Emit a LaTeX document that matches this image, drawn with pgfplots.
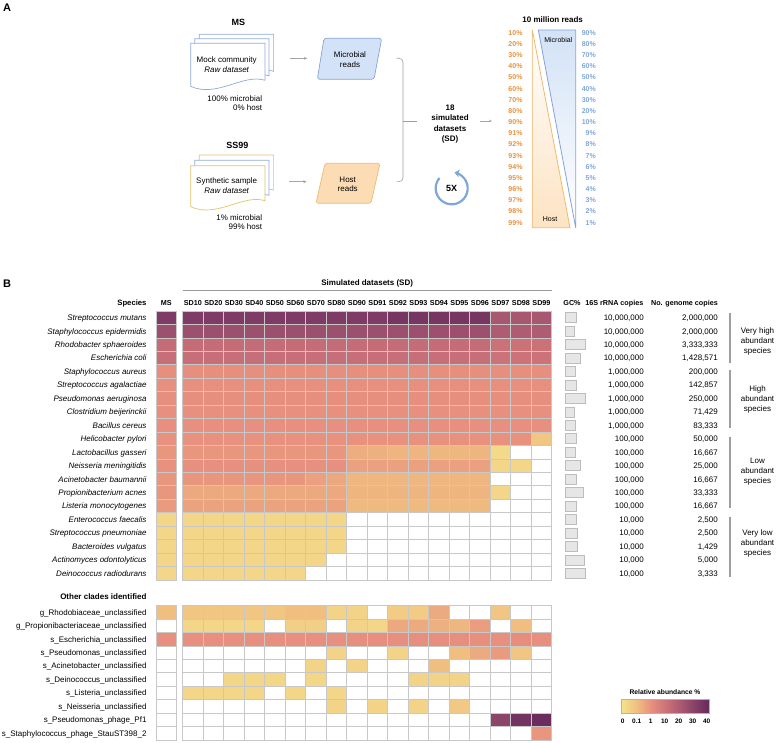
\documentclass[border=0pt]{standalone}
\usepackage{pgfplots}
\pgfplotsset{compat=1.18}
\usepackage{pgfplotstable}
\usepackage{fontspec}
\setmainfont{Liberation Sans}
\usetikzlibrary{arrows.meta}
\definecolor{c0}{HTML}{F4E08C}
\definecolor{c1}{HTML}{F0BF80}
\definecolor{c2}{HTML}{E8917F}
\definecolor{c3}{HTML}{CD7479}
\definecolor{c4}{HTML}{AE5C72}
\definecolor{c5}{HTML}{8C4469}
\definecolor{c6}{HTML}{6A2D5E}
\definecolor{gridgray}{HTML}{C8C8C8}
\definecolor{gcfill}{HTML}{E6E6E6}
\definecolor{gcdraw}{HTML}{BDBDBD}
\definecolor{docblue}{HTML}{8FAADC}
\definecolor{docyel}{HTML}{E5C26C}
\definecolor{mfill}{HTML}{D3E2F6}
\definecolor{mdraw}{HTML}{84A3D6}
\definecolor{hfill}{HTML}{FCDCB4}
\definecolor{hdraw}{HTML}{EDBA6E}
\definecolor{pctor}{HTML}{E8903A}
\definecolor{pctbl}{HTML}{7EA6DC}
\definecolor{arcbl}{HTML}{7FA6DA}
\newcommand{\fs}[1]{\fontsize{#1}{#1}\selectfont}
\newcommand{\docshape}[5]{%
 \filldraw[draw=#5, fill=white, line width=0.7pt] (#1,#2) -- ({#1+#3},#2) -- ({#1+#3},{#2+#4-9}) .. controls ({#1+0.7*#3},{#2+#4-16}) and ({#1+0.35*#3},{#2+#4+9}) .. (#1,{#2+#4-3}) -- cycle;}
\newcommand{\numrow}[3]{%
 \node[anchor=base east, inner sep=0, font=\fs{8}] at (644,{311+13.45*(#1+0.5)+2.9}) {#2};
 \node[anchor=base east, inner sep=0, font=\fs{8}] at (718,{311+13.45*(#1+0.5)+2.9}) {#3};}
\newcommand{\hmcol}[2]{%
 \addplot[cell, point meta={abpos(\thisrow{#1})}] table[x expr=#2, y expr=\coordindex] {\species};
 \addplot[cell, point meta={abpos(\thisrow{#1})}] table[x expr=#2, y expr={\coordindex+21.9}] {\clades};}

\pgfplotstableread{
MS SD10 SD20 SD30 SD40 SD50 SD60 SD70 SD80 SD90 SD91 SD92 SD93 SD94 SD95 SD96 SD97 SD98 SD99
34 34 34 34 34 34 34 34 34 34 34 36 36 36 36 36 22 22 22
25 25 25 25 25 25 25 25 25 25 25 25 25 25 25 25 20 20 20
13 13 13 13 13 13 13 13 13 13 13 13 13 13 13 13 11 11 11
12 12 12 12 12 12 12 12 12 12 12 12 12 12 12 12 10.5 10.5 10.5
1.6 1.6 1.6 1.6 1.6 1.6 1.6 1.6 1.6 1.6 1.6 1.6 1.6 1.6 1.6 1.6 1.6 1.6 1.6
1.4 1.4 1.4 1.4 1.4 1.4 1.4 1.4 1.4 1.4 1.4 1.4 1.4 1.4 1.4 1.4 1.4 1.4 1.4
1.7 1.7 1.7 1.7 1.7 1.7 1.7 1.7 1.7 1.7 1.7 1.7 1.7 1.7 1.7 1.7 1.7 1.7 1.7
1.3 1.3 1.3 1.3 1.3 1.3 1.3 1.3 1.3 1.3 1.3 1.3 1.3 1.3 1.3 1.3 1.3 1.3 1.3
1.3 1.3 1.3 1.3 1.3 1.3 1.3 1.3 1.3 1.3 1.3 1.3 1.3 1.3 1.3 1.3 1.3 1.3 1.3
1.1 1.1 1.1 1.1 1.1 1.1 1.1 1.1 1.1 1.1 1.1 1.1 1.1 1.1 1.1 1.1 1.1 1.1 0.08
0.9 0.9 0.9 0.9 0.9 0.9 0.9 0.9 0.9 0.45 0.4 0.3 0.3 0.25 0.25 0.3 0.02 0 0
1.0 1.2 1.2 1.2 1.2 1.2 1.2 1.2 1.2 0.7 0.7 0.7 0.7 0.7 0.7 0.7 0.03 0.03 0
0.9 0.9 0.9 0.9 0.9 0.9 0.9 0.7 0.55 0.25 0.25 0.25 0.25 0.25 0.25 0.25 0 0 0
0.9 0.55 0.55 0.55 0.55 0.55 0.55 0.55 0.55 0.3 0.3 0.3 0.3 0.3 0.3 0.3 0.03 0 0
0.8 0.65 0.65 0.65 0.65 0.65 0.65 0.65 0.65 0.2 0.2 0.2 0.2 0.2 0.2 0.2 0 0 0
0.03 0.03 0.03 0.03 0.03 0.03 0.03 0.03 0.03 0 0 0 0 0 0 0 0 0 0
0.03 0.03 0.03 0.03 0.03 0.03 0.03 0.03 0.03 0 0 0 0 0 0 0 0 0 0
0.03 0.03 0.03 0.03 0.03 0.03 0.03 0.03 0.03 0 0 0 0 0 0 0 0 0 0
0.03 0.03 0.03 0.03 0.03 0.03 0.03 0.03 0 0 0 0 0 0 0 0 0 0 0
0.03 0.03 0.03 0.03 0.03 0.03 0.03 0 0 0 0 0 0 0 0 0 0 0 0
}\species

\pgfplotstableread{
MS SD10 SD20 SD30 SD40 SD50 SD60 SD70 SD80 SD90 SD91 SD92 SD93 SD94 SD95 SD96 SD97 SD98 SD99
0.1 0.08 0.08 0.08 0.08 0.08 0.1 0.1 0.04 0.04 0 0.06 0.06 0.5 0 0 0.08 0 0
0 0.03 0.03 0.03 0.03 0 0.05 0.05 0 0.04 0.03 0.55 0.5 0.4 0.25 0.75 0 0.12 0
1.2 1.2 1.2 1.2 1.2 1.2 1.2 1.2 1.3 1.5 1.5 1.7 1.7 1.6 1.7 1.5 1.4 2.0 1.4
0 0 0 0 0 0 0 0 0.04 0 0 0.04 0 0 0.1 0.5 0.8 0.08 0
0 0 0 0 0 0 0 0.04 0 0.04 0 0 0 0.1 0 0 0 0 0
0 0 0 0.03 0.03 0.03 0 0.03 0 0 0 0 0.04 0.04 0.04 0 0 0 0
0 0.03 0.03 0.03 0.03 0 0.03 0 0.03 0 0 0 0 0 0 0 0 0 0
0 0 0 0 0 0 0 0 0.04 0 0.04 0 0.04 0 0.07 0 0 0 0
0 0 0 0 0 0 0 0 0 0 0 0 0 0 0 0 30 37 40
0 0 0 0 0 0 0 0 0 0 0 0 0 0 0 0 0 0 0.9
}\clades

\pgfplotstableread{
row gc
0 37
1 32
2 69
3 51
4 33
5 36
6 66
7 30
8 35
9 39
10 35
11 52
12 39
13 60
14 38
15 37
16 40
17 42
18 65
19 67
}\gctab

\pgfplotsset{cell/.style={scatter, only marks, mark=square*, mark size=0.5pt,
  scatter/use mapped color={draw=gridgray, fill=mapped color},
  mark options={xscale=20.5, yscale=13.45, line width=0.8pt}}}

\begin{document}
\begin{tikzpicture}[
  declare function={abpos(\v)=(\v>0)*(1+min(\v/0.1,1)+max(min((\v-0.1)/0.9,1),0)+max(min((\v-1)/9,1),0)+max(min((\v-10)/10,3),0));}]
\path[use as bounding box] (0pt,0pt) rectangle (777pt,-743pt);

% heatmap
\begin{axis}[at={(156.05pt,-311pt)}, anchor=north west, scale only axis,
  width=395.65pt, height=429.06pt, xmin=-1.8, xmax=17.5, ymin=-0.5, ymax=31.4,
  y dir=reverse, hide axis, clip=false, point meta min=0, point meta max=7,
  colormap={hm}{color(0cm)=(white) color(1cm)=(c0) color(2cm)=(c1) color(3cm)=(c2) color(4cm)=(c3) color(5cm)=(c4) color(6cm)=(c5) color(7cm)=(c6)}]
\hmcol{MS}{-1.3}
\hmcol{SD10}{0}
\hmcol{SD20}{1}
\hmcol{SD30}{2}
\hmcol{SD40}{3}
\hmcol{SD50}{4}
\hmcol{SD60}{5}
\hmcol{SD70}{6}
\hmcol{SD80}{7}
\hmcol{SD90}{8}
\hmcol{SD91}{9}
\hmcol{SD92}{10}
\hmcol{SD93}{11}
\hmcol{SD94}{12}
\hmcol{SD95}{13}
\hmcol{SD96}{14}
\hmcol{SD97}{15}
\hmcol{SD98}{16}
\hmcol{SD99}{17}
\end{axis}

% GC bars
\begin{axis}[at={(565pt,-311pt)}, anchor=north west, scale only axis, width=30pt, height=269pt,
  xmin=0, xmax=100, ymin=-0.5, ymax=19.5, y dir=reverse, hide axis, clip=false,
  xbar, bar width=10pt]
\addplot[xbar, fill=gcfill, draw=gcdraw, line width=0.6pt] table[x=gc, y=row] {\gctab};
\end{axis}

\begin{scope}[x=1pt,y=-1pt]
% ---------------- Panel A ----------------
\node[anchor=base west, inner sep=0, font=\fs{11}\bfseries] at (3,12) {A};
\node[anchor=base, inner sep=0, font=\fs{9}\bfseries] at (238.3,25.9) {MS};
\docshape{199.3}{34.3}{74.3}{46}{docblue}
\docshape{194.7}{38.8}{74.3}{46}{docblue}
\docshape{190.7}{43.3}{74.3}{46}{docblue}
\node[anchor=base, inner sep=0, font=\fs{8}] at (226.7,62.9) {Mock community};
\node[anchor=base, inner sep=0, font=\fs{8}\itshape] at (226.7,72.2) {Raw dataset};
\node[anchor=base east, inner sep=0, font=\fs{8}] at (262.3,101.2) {100\% microbial};
\node[anchor=base east, inner sep=0, font=\fs{8}] at (262.3,110.6) {0\% host};
\draw[gray!70, line width=0.5pt, -{Stealth[length=3.5pt,width=3pt]}] (290,58.3) -- (307.3,58.3);
\filldraw[fill=mfill, draw=mdraw, rounded corners=2.5pt, line width=0.7pt] (324,38.3) -- (381.7,38.3) -- (374,79.3) -- (317.3,79.3) -- cycle;
\node[anchor=base, inner sep=0, font=\fs{8}] at (350,57.9) {Microbial};
\node[anchor=base, inner sep=0, font=\fs{8}] at (350,67.9) {reads};

\node[anchor=base, inner sep=0, font=\fs{9}\bfseries] at (237.3,148.9) {SS99};
\docshape{199.3}{155}{74.3}{44}{docyel}
\docshape{194.7}{160.3}{74.3}{44}{docblue}
\docshape{190.7}{165.7}{74.3}{44}{docyel}
\node[anchor=base, inner sep=0, font=\fs{8}] at (226.7,183.9) {Synthetic sample};
\node[anchor=base, inner sep=0, font=\fs{8}\itshape] at (226.7,193.6) {Raw dataset};
\node[anchor=base east, inner sep=0, font=\fs{8}] at (262.3,220.2) {1\% microbial};
\node[anchor=base east, inner sep=0, font=\fs{8}] at (262.3,229.9) {99\% host};
\draw[gray!70, line width=0.5pt, -{Stealth[length=3.5pt,width=3pt]}] (289.3,181.7) -- (306.7,181.7);
\filldraw[fill=hfill, draw=hdraw, rounded corners=2.5pt, line width=0.7pt] (325,163.3) -- (380,163.3) -- (371,203.3) -- (316,203.3) -- cycle;
\node[anchor=base, inner sep=0, font=\fs{8}] at (347.7,182.2) {Host};
\node[anchor=base, inner sep=0, font=\fs{8}] at (347.7,191.9) {reads};

% brace
\draw[gray!75, line width=0.6pt, rounded corners=4pt] (396.5,58.3) -- (403,58.3) -- (403,121);
\draw[gray!75, line width=0.6pt, rounded corners=4pt] (396.5,181.7) -- (403,181.7) -- (403,121);
\draw[gray!75, line width=0.6pt] (403,121) -- (416.7,121);
\node[align=center, inner sep=0, font=\fontsize{8}{10.3}\selectfont\bfseries] at (450,124) {18\\simulated\\datasets\\(SD)};
\draw[gray!70, line width=0.5pt, -{Stealth[length=3pt,width=2.5pt]}] (480,121) -- (492,121);
\draw[arcbl, line width=2.2pt, -{Stealth[length=5pt,width=8pt]}] (439.44,178.02) arc[start angle=-140, end angle=-440, radius=16];
\node[anchor=base, inner sep=0, font=\fs{9}\bfseries] at (451.7,191.5) {5X};

% reads triangles
\node[anchor=base, inner sep=0, font=\fs{8}\bfseries] at (552.7,22.2) {10 million reads};
\shade[top color=white, bottom color=hfill!80] (532.3,30) -- (532.3,227.7) -- (570,227.7) -- cycle;
\draw[hdraw, line width=0.8pt, line join=round] (532.3,30) -- (532.3,227.7) -- (570,227.7) -- cycle;
\shade[top color=mfill, bottom color=white] (538.3,30) -- (575.7,30) -- (575.7,227.7) -- cycle;
\draw[mdraw, line width=0.8pt, line join=round] (538.3,30) -- (575.7,30) -- (575.7,227.7) -- cycle;
\node[anchor=base, inner sep=0, font=\fs{7}] at (558.3,42.5) {Microbial};
\node[anchor=base, inner sep=0, font=\fs{7}] at (550,221.5) {Host};
\foreach \p [count=\k from 0] in {10,20,30,40,50,60,70,80,90,91,92,93,94,95,96,97,98,99}
  \node[anchor=base east, inner sep=0, text=pctor, font=\fs{7}\bfseries] at (522.7,{32.7+11.17*\k+2.5}) {\p\%};
\foreach \p [count=\k from 0] in {90,80,70,60,50,40,30,20,10,9,8,7,6,5,4,3,2,1}
  \node[anchor=base east, inner sep=0, text=pctbl, font=\fs{7}\bfseries] at (596,{32.7+11.17*\k+2.5}) {\p\%};

% ---------------- Panel B ----------------
\node[anchor=base west, inner sep=0, font=\fs{11}\bfseries] at (3,288) {B};
\node[anchor=base, inner sep=0, font=\fs{8}\bfseries] at (367.2,285.8) {Simulated datasets (SD)};
\draw[gray!80, line width=1.8pt] (183,290.5) -- (552,290.5);
\node[anchor=base east, inner sep=0, font=\fs{7.7}\bfseries] at (146.7,305.8) {Species};
\node[anchor=base, inner sep=0, font=\fs{7.2}\bfseries] at (166.3,305.6) {MS};
\foreach \s [count=\j from 0] in {SD10,SD20,SD30,SD40,SD50,SD60,SD70,SD80,SD90,SD91,SD92,SD93,SD94,SD95,SD96,SD97,SD98,SD99}
  \node[anchor=base, inner sep=0, font=\fs{7.2}\bfseries] at ({182.7+20.5*(\j+0.5)},305.6) {\s};
\node[anchor=base, inner sep=0, font=\fs{7.2}\bfseries] at (572,305.6) {GC\%};
\node[anchor=base east, inner sep=0, font=\fs{7.2}\bfseries] at (643.5,305.6) {16S rRNA copies};
\node[anchor=base east, inner sep=0, font=\fs{7.2}\bfseries] at (718,305.6) {No. genome copies};

\foreach \n [count=\i from 0] in {Streptococcus mutans,Staphylococcus epidermidis,Rhodobacter sphaeroides,Escherichia coli,Staphylococcus aureus,Streptococcus agalactiae,Pseudomonas aeruginosa,Clostridium beijerinckii,Bacillus cereus,Helicobacter pylori,Lactobacillus gasseri,Neisseria meningitidis,Acinetobacter baumannii,Propionibacterium acnes,Listeria monocytogenes,Enterococcus faecalis,Streptococcus pneumoniae,Bacteroides vulgatus,Actinomyces odontolyticus,Deinococcus radiodurans}
  \node[anchor=base east, inner sep=0, font=\fs{8}\itshape] at (146.7,{311+13.45*(\i+0.5)+2.9}) {\n};

\node[anchor=base east, inner sep=0, font=\fs{8}\bfseries] at (146.7,599.6) {Other clades identified};
\foreach \n [count=\i from 0] in {g\_Rhodobiaceae\_unclassified,g\_Propionibacteriaceae\_unclassified,s\_Escherichia\_unclassified,s\_Pseudomonas\_unclassified,s\_Acinetobacter\_unclassified,s\_Deinococcus\_unclassified,s\_Listeria\_unclassified,s\_Neisseria\_unclassified,s\_Pseudomonas\_phage\_Pf1,s\_Staphylococcus\_phage\_StauST398\_2}
  \node[anchor=base east, inner sep=0, font=\fs{8}] at (146.7,{311+13.45*(\i+22.4)+2.9}) {\n};

\numrow{0}{10,000,000}{2,000,000}
\numrow{1}{10,000,000}{2,000,000}
\numrow{2}{10,000,000}{3,333,333}
\numrow{3}{10,000,000}{1,428,571}
\numrow{4}{1,000,000}{200,000}
\numrow{5}{1,000,000}{142,857}
\numrow{6}{1,000,000}{250,000}
\numrow{7}{1,000,000}{71,429}
\numrow{8}{1,000,000}{83,333}
\numrow{9}{100,000}{50,000}
\numrow{10}{100,000}{16,667}
\numrow{11}{100,000}{25,000}
\numrow{12}{100,000}{16,667}
\numrow{13}{100,000}{33,333}
\numrow{14}{100,000}{16,667}
\numrow{15}{10,000}{2,500}
\numrow{16}{10,000}{2,500}
\numrow{17}{10,000}{1,429}
\numrow{18}{10,000}{5,000}
\numrow{19}{10,000}{3,333}

\draw[gray!75, line width=1.3pt] (730,313) -- (730,363);
\draw[gray!75, line width=1.3pt] (730,370.5) -- (730,428.5);
\draw[gray!75, line width=1.3pt] (730,436.5) -- (730,508);
\draw[gray!75, line width=1.3pt] (730,516.5) -- (730,577);
\node[align=center, inner sep=0, font=\fontsize{8}{10}\selectfont] at (757.5,341) {Very high\\abundant\\species};
\node[align=center, inner sep=0, font=\fontsize{8}{10}\selectfont] at (757.5,399) {High\\abundant\\species};
\node[align=center, inner sep=0, font=\fontsize{8}{10}\selectfont] at (757.5,471.5) {Low\\abundant\\species};
\node[align=center, inner sep=0, font=\fontsize{8}{10}\selectfont] at (757.5,543.5) {Very low\\abundant\\species};

% colour bar
\node[anchor=base, inner sep=0, font=\fs{6.7}\bfseries] at (665,694.5) {Relative abundance \%};
\fill[c0] (621,699) rectangle (622.7,713);
\fill[left color=c0, right color=c1] (622.7,699) rectangle (636.7,713);
\fill[left color=c1, right color=c2] (636.7,699) rectangle (650.7,713);
\fill[left color=c2, right color=c3] (650.7,699) rectangle (664.7,713);
\fill[left color=c3, right color=c4] (664.7,699) rectangle (678.7,713);
\fill[left color=c4, right color=c5] (678.7,699) rectangle (692.7,713);
\fill[left color=c5, right color=c6] (692.7,699) rectangle (706.7,713);
\fill[c6] (706.7,699) rectangle (709,713);
\draw[gray!60, line width=0.8pt] (621,699) rectangle (709,713);
\foreach \t [count=\k from 0] in {0,0.1,1,10,20,30,40}
  \node[anchor=base, inner sep=0, font=\fs{6.5}\bfseries] at ({622.7+14*\k},723.3) {\t};
\end{scope}
\end{tikzpicture}
\end{document}
